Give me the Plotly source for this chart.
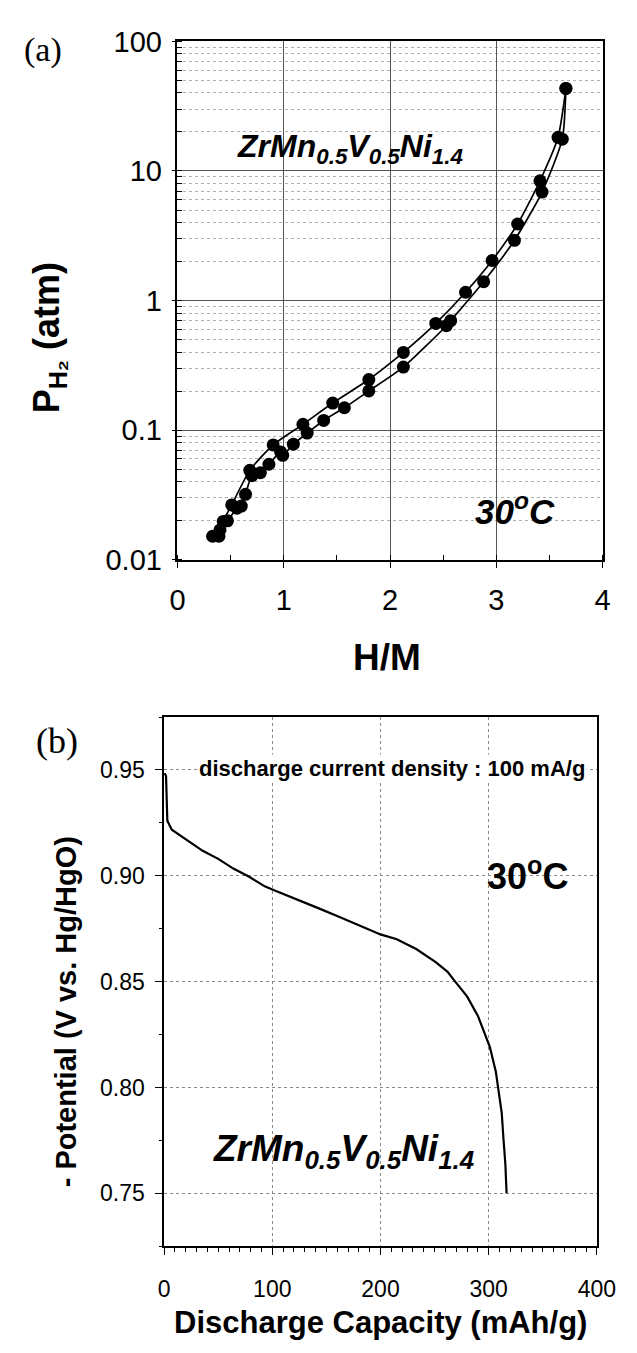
import plotly.graph_objects as go

W, H = 637, 1353

# ---------- data: (a) PCT isotherm at 30 C ----------
abs_hm = [0.39, 0.43, 0.51, 0.68, 0.90, 1.18, 1.46, 1.80, 2.125, 2.43, 2.71, 2.96, 3.20, 3.41, 3.58, 3.654]
abs_p = [0.0152, 0.0198, 0.0265, 0.049, 0.077, 0.111, 0.162, 0.246, 0.398, 0.667, 1.16, 2.04, 3.9, 8.4, 18.2, 43.4]
des_hm = [0.33, 0.40, 0.47, 0.56, 0.60, 0.64, 0.70, 0.78, 0.86, 0.97, 0.99, 1.09, 1.22, 1.375, 1.57, 1.80, 2.125, 2.53, 2.57, 2.88, 3.17, 3.43, 3.62, 3.654]
des_p = [0.0152, 0.017, 0.020, 0.025, 0.026, 0.032, 0.0446, 0.047, 0.0546, 0.068, 0.064, 0.078, 0.095, 0.119, 0.149, 0.201, 0.307, 0.64, 0.70, 1.40, 2.92, 6.88, 17.6, 43.4]
a_yticks = [0.01, 0.1, 1, 10, 100]
a_yticktext = ["0.01", "0.1", "1", "10", "100"]
a_xticks = [0, 1, 2, 3, 4]

# ---------- data: (b) discharge curve ----------
cap = [0, 1.0, 1.8, 2.4, 3.0, 7.1, 17.9, 28.6, 35.7, 50, 64, 78.6, 93, 100, 125, 143, 161, 179, 200,
       215, 233, 251, 262, 269, 280, 290, 301, 306.5, 310, 312, 313.6, 315.4, 316.5]
pot = [0.948, 0.948, 0.947, 0.935, 0.926, 0.9218, 0.918, 0.9142, 0.9118, 0.908, 0.9034, 0.8995, 0.895,
       0.8935, 0.8885, 0.8846, 0.8808, 0.877, 0.8723, 0.870, 0.8654, 0.8592, 0.8546, 0.850, 0.843, 0.8338,
       0.8192, 0.8077, 0.7954, 0.788, 0.776, 0.7635, 0.750]
b_yticks = [0.75, 0.80, 0.85, 0.90, 0.95]
b_xticks = [0, 100, 200, 300, 400]


def px(x):
    return x / W


def py(y):
    return 1 - y / H


fig = go.Figure()

fig.add_trace(go.Scatter(x=abs_hm, y=abs_p, mode="lines+markers", xaxis="x", yaxis="y",
                         line=dict(color="black", width=1.7, shape="spline", smoothing=0.6),
                         marker=dict(color="black", size=13), showlegend=False))
fig.add_trace(go.Scatter(x=des_hm, y=des_p, mode="lines+markers", xaxis="x", yaxis="y",
                         line=dict(color="black", width=1.7, shape="spline", smoothing=0.6),
                         marker=dict(color="black", size=13), showlegend=False))
fig.add_trace(go.Scatter(x=cap, y=pot, mode="lines", xaxis="x2", yaxis="y2",
                         line=dict(color="black", width=2.2), showlegend=False))

sans = "Arial, Liberation Sans"
serif = "Times New Roman, Liberation Serif"
tickfont_a = dict(family=sans, size=29, color="black")
tickfont_b = dict(family=sans, size=23, color="black")

fig.update_layout(
    width=W, height=H,
    margin=dict(l=0, r=0, t=0, b=0),
    paper_bgcolor="white", plot_bgcolor="white",
    xaxis=dict(domain=[px(177), px(621)], range=[0, 4], tickvals=a_xticks,
               showline=True, linecolor="black", linewidth=1.5, mirror=True,
               ticks="outside", ticklen=6, tickcolor="black",
               showgrid=True, gridcolor="#555", gridwidth=1, zeroline=False,
               tickfont=tickfont_a, ticklabelstandoff=8,
               minor=dict(dtick=0.5, ticks="inside", ticklen=5, tickcolor="black", showgrid=False),
               anchor="y"),
    yaxis=dict(domain=[py(557), py(26)], type="log", range=[-2, 2],
               tickvals=a_yticks, ticktext=a_yticktext,
               showline=True, linecolor="black", linewidth=1.5, mirror=True,
               ticks="outside", ticklen=4, tickcolor="black",
               showgrid=True, gridcolor="#555", gridwidth=1, zeroline=False,
               tickfont=tickfont_a, ticklabelstandoff=4,
               minor=dict(dtick="D1", ticks="inside", ticklen=5, tickcolor="black",
                          showgrid=True, gridcolor="#b0b0b0", griddash="dot", gridwidth=1),
               anchor="x"),
    xaxis2=dict(domain=[px(163), px(615)], range=[0, 400], tickvals=b_xticks,
                showline=True, linecolor="black", linewidth=1.5, mirror=True,
                ticks="outside", ticklen=7, tickcolor="black",
                showgrid=True, gridcolor="#888", gridwidth=1, griddash="dot", zeroline=False,
                tickfont=tickfont_b, ticklabelstandoff=14,
                minor=dict(dtick=10, ticks="outside", ticklen=4, tickcolor="black", showgrid=False),
                anchor="y2"),
    yaxis2=dict(domain=[py(1260), py(718)], range=[0.725, 0.975], tickvals=b_yticks,
                tickformat=".2f",
                showline=True, linecolor="black", linewidth=1.5, mirror=True,
                ticks="outside", ticklen=7, tickcolor="black",
                showgrid=True, gridcolor="#888", gridwidth=1, griddash="dot", zeroline=False,
                tickfont=tickfont_b, ticklabelstandoff=6,
                minor=dict(dtick=0.025, ticks="outside", ticklen=3, tickcolor="black", showgrid=False),
                anchor="x2"),
)


def note(text, x, y, size, family=sans, angle=0, bg=None):
    d = dict(text=text, x=px(x), y=py(y), xref="paper", yref="paper", showarrow=False,
             xanchor="center", yanchor="middle", textangle=angle,
             font=dict(family=family, size=size, color="black"))
    if bg:
        d["bgcolor"] = bg
    return d


ann = [
    note("(a)", 37, 35, 34, family=serif),
    note("(b)", 51, 743, 36, family=serif),
    note("<b><i>ZrMn<sub>0.5</sub>V<sub>0.5</sub>Ni<sub>1.4</sub></i></b>", 358, 136, 32),
    note("<b><i>30<sup>o</sup>C</i></b>", 529, 505, 35),
    note("<b>P<sub>H₂</sub> (atm)</b>", 43, 330, 36, angle=-90),
    note("<b>H/M</b>", 396, 657, 37),
    note("<b>discharge current density : 100 mA/g</b>", 401, 771, 22, bg="white"),
    note("<b>30<sup>o</sup>C</b>", 543, 879, 36),
    note("<b><i>ZrMn<sub>0.5</sub>V<sub>0.5</sub>Ni<sub>1.4</sub></i></b>", 350, 1163, 37),
    note("<b>- Potential (V vs. Hg/HgO)</b>", 60, 1020, 29, angle=-90),
    note("<b>Discharge Capacity (mAh/g)</b>", 389, 1338, 31),
]

fig.update_layout(annotations=ann)
fig.write_html("out.html")
